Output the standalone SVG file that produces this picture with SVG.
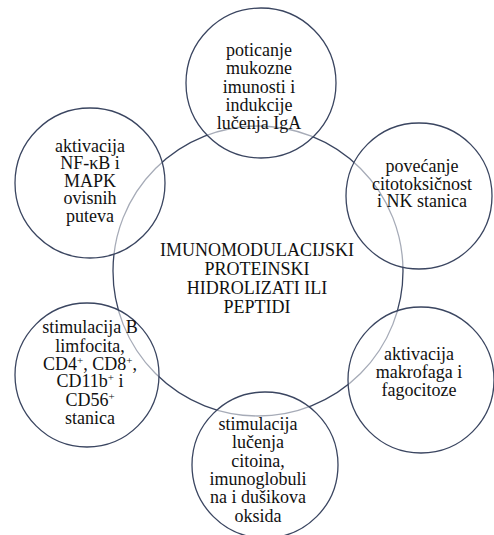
<svg xmlns="http://www.w3.org/2000/svg" width="494" height="535" viewBox="0 0 494 535">
<style>
.big{fill:none;stroke:#3a4560;stroke-width:1.3}
.node circle{fill:#ffffff;fill-opacity:0.55;stroke:#3a4560;stroke-width:1.3}
text{font-family:"Liberation Serif","Times New Roman",serif;font-size:18px;fill:#111;text-anchor:middle}
.sup{font-size:11px}
</style>
<rect width="494" height="535" fill="#ffffff"/>
<g id="center">
<circle class="big" cx="258" cy="271" r="145"/>
<text x="257" y="256">IMUNOMODULACIJSKI</text>
<text x="257" y="275">PROTEINSKI</text>
<text x="257" y="294">HIDROLIZATI ILI</text>
<text x="257" y="313">PEPTIDI</text>
</g>
<g id="connectors"></g>
<g id="n-top" class="node">
<circle cx="261" cy="83" r="75"/>
<text x="259" y="56">poticanje</text>
<text x="259" y="74">mukozne</text>
<text x="259" y="93">imunosti i</text>
<text x="259" y="111">indukcije</text>
<text x="259" y="129">lučenja IgA</text>
</g>
<g id="n-topleft" class="node">
<circle cx="90" cy="183" r="75"/>
<text x="90" y="152">aktivacija</text>
<text x="90" y="169">NF-κB i</text>
<text x="90" y="187">MAPK</text>
<text x="90" y="204">ovisnih</text>
<text x="90" y="222">puteva</text>
</g>
<g id="n-right" class="node">
<circle cx="419" cy="196" r="73"/>
<text x="422" y="172">povećanje</text>
<text x="422" y="190">citotoksičnost</text>
<text x="422" y="207">i NK stanica</text>
</g>
<g id="n-bottomright" class="node">
<circle cx="421" cy="380" r="73"/>
<text x="419" y="360">aktivacija</text>
<text x="419" y="378">makrofaga i</text>
<text x="419" y="396">fagocitoze</text>
</g>
<g id="n-bottom" class="node">
<circle cx="265" cy="465" r="73"/>
<text x="258" y="430">stimulacija</text>
<text x="258" y="448">lučenja</text>
<text x="258" y="467">citoina,</text>
<text x="258" y="485">imunoglobuli</text>
<text x="258" y="503">na i dušikova</text>
<text x="258" y="522">oksida</text>
</g>
<g id="n-bottomleft" class="node">
<circle cx="87" cy="375" r="72"/>
<text x="90" y="333">stimulacija B</text>
<text x="90" y="352">limfocita,</text>
<text x="90" y="370">CD4<tspan class="sup" dy="-6">+</tspan><tspan dy="6">, CD8</tspan><tspan class="sup" dy="-6">+</tspan><tspan dy="6">,</tspan></text>
<text x="90" y="387">CD11b<tspan class="sup" dy="-6">+</tspan><tspan dy="6"> i</tspan></text>
<text x="90" y="406">CD56<tspan class="sup" dy="-6">+</tspan></text>
<text x="90" y="424">stanica</text>
</g>
</svg>
